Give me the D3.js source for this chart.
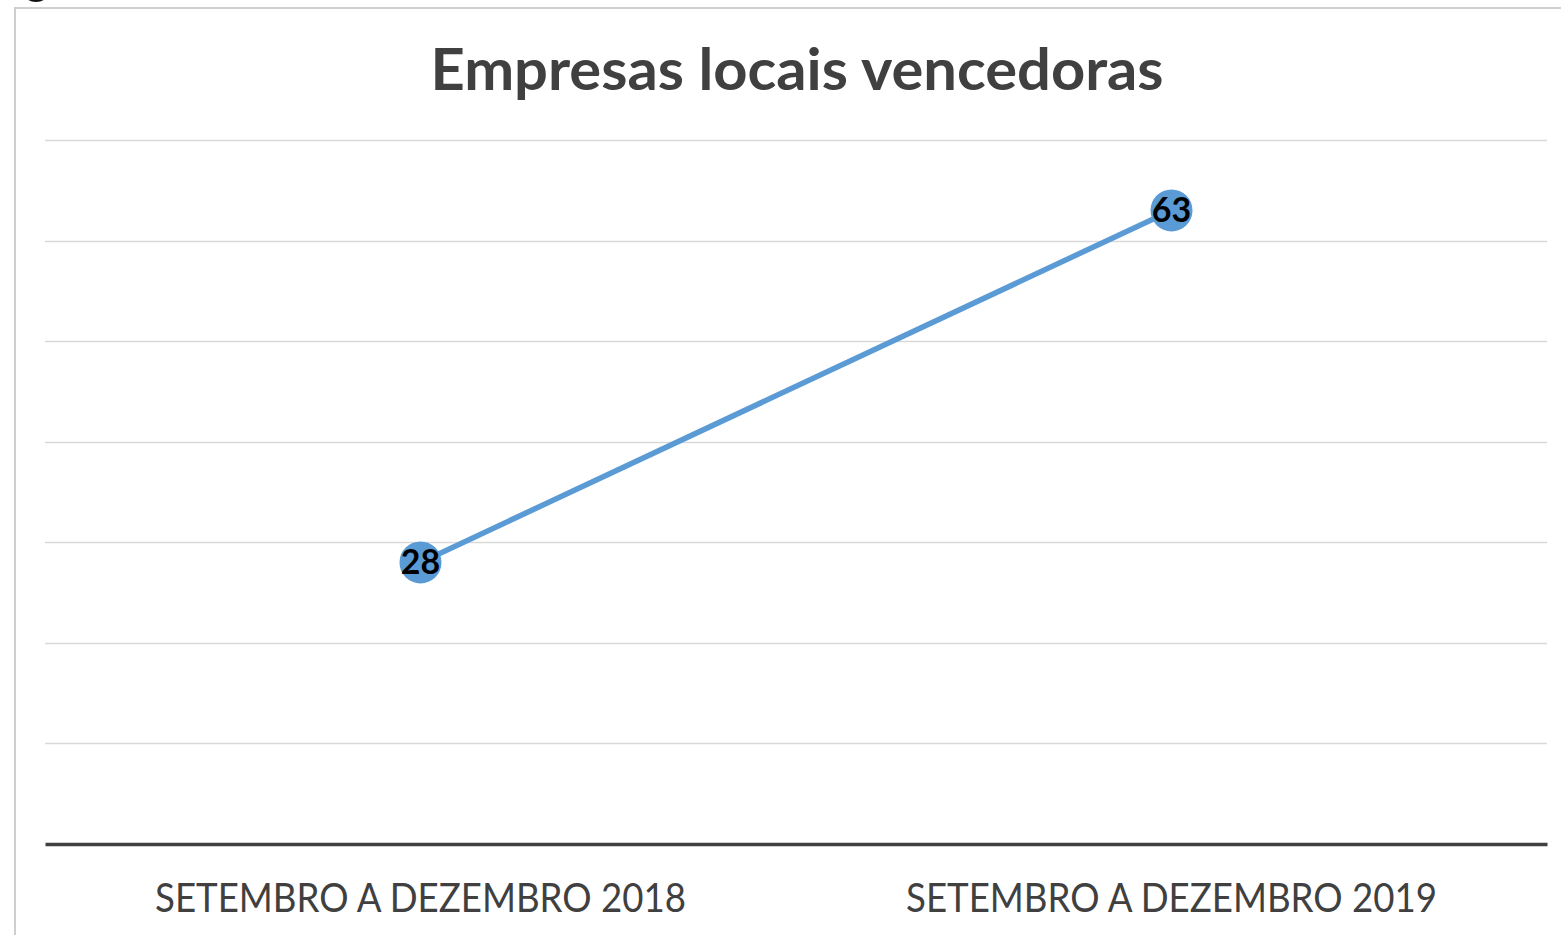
<!DOCTYPE html>
<html>
<head>
<meta charset="utf-8">
<script src="https://cdn.jsdelivr.net/npm/d3@7"></script>
<style>
  body { margin: 0; background: #fff; }
  svg { display: block; }
</style>
</head>
<body>
<div id="chart_area"></div>
<script>
var W = 1561, H = 935;
var margin = { top: 140, right: 14, bottom: 91, left: 45 },
    width = W - margin.left - margin.right,
    height = H - margin.top - margin.bottom;

var categories = ["SETEMBRO A DEZEMBRO 2018", "SETEMBRO A DEZEMBRO 2019"];
var values = [28, 63];
var yTicks = [0, 10, 20, 30, 40, 50, 60, 70];
var title = "Empresas locais vencedoras";

var svg = d3.select("#chart_area")
    .append("svg")
    .attr("width", W)
    .attr("height", H);

// outer frame
svg.append("rect")
    .attr("x", 15).attr("y", 8)
    .attr("width", W).attr("height", H)
    .attr("fill", "none")
    .attr("stroke", "#cfcfcf")
    .attr("stroke-width", 2);

// leftover dark blob at the very top left
svg.append("ellipse")
    .attr("cx", 36).attr("cy", -8)
    .attr("rx", 13).attr("ry", 10)
    .attr("fill", "#111");

svg.append("text")
    .attr("x", 797).attr("y", 90)
    .attr("text-anchor", "middle")
    .attr("font-family", "Lato, 'Open Sans', sans-serif")
    .attr("font-weight", "bold")
    .attr("font-size", 57)
    .attr("fill", "#404040")
    .attr("textLength", 733)
    .attr("lengthAdjust", "spacingAndGlyphs")
    .text(title);

var g = svg.append("g")
    .attr("transform", "translate(" + margin.left + "," + margin.top + ")");

var x = d3.scaleBand()
    .domain(categories)
    .range([0, width]);

var y = d3.scaleLinear()
    .domain([0, 70])
    .range([height, 0]);

// gridlines
g.selectAll(".grid")
    .data(yTicks.slice(1))
    .enter()
    .append("line")
    .attr("x1", 0).attr("x2", width)
    .attr("y1", function (d) { return Math.round(y(d)) + 0.5; })
    .attr("y2", function (d) { return Math.round(y(d)) + 0.5; })
    .attr("stroke", "#d9d9d9")
    .attr("stroke-width", 1.3);

// X axis
var xAxis = g.append("g")
    .attr("transform", "translate(0," + height + ")")
    .call(d3.axisBottom(x).tickSize(0).tickPadding(0));
xAxis.select(".domain")
    .attr("stroke", "#404040")
    .attr("stroke-width", 3.5);
xAxis.selectAll("text")
    .attr("y", 68)
    .attr("dy", 0)
    .attr("font-family", "Lato, 'Open Sans', sans-serif")
    .attr("font-size", 40)
    .attr("fill", "#404040")
    .attr("textLength", 531)
    .attr("lengthAdjust", "spacingAndGlyphs");

var cx = function (d, i) { return x(categories[i]) + x.bandwidth() / 2; };

// line
var line = d3.line()
    .x(function (d, i) { return cx(d, i); })
    .y(function (d) { return y(d); });

g.append("path")
    .datum(values)
    .attr("d", line)
    .attr("fill", "none")
    .attr("stroke", "#5b9bd5")
    .attr("stroke-width", 5.5);

g.selectAll(".dot")
    .data(values)
    .enter()
    .append("circle")
    .attr("cx", cx)
    .attr("cy", function (d) { return y(d); })
    .attr("r", 21)
    .attr("fill", "#5b9bd5");

g.selectAll(".lbl")
    .data(values)
    .enter()
    .append("text")
    .attr("x", cx)
    .attr("y", function (d) { return y(d) + 12; })
    .attr("text-anchor", "middle")
    .attr("font-family", "Lato, 'Open Sans', sans-serif")
    .attr("font-weight", "bold")
    .attr("font-size", 34)
    .attr("fill", "#000")
    .text(function (d) { return d; });
</script>
</body>
</html>
